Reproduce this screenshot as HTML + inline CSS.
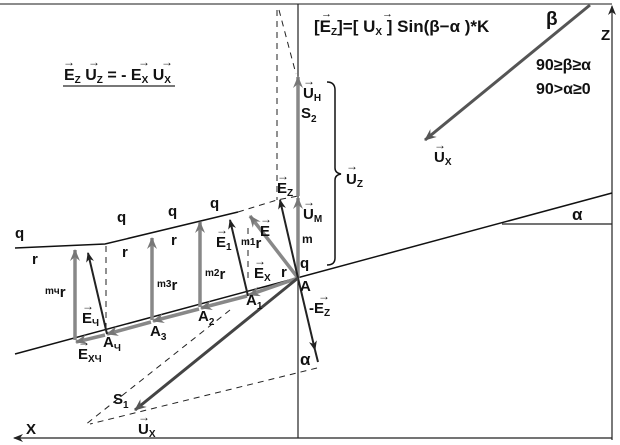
<!DOCTYPE html>
<html><head><meta charset="utf-8"><style>
html,body{margin:0;padding:0;background:#fff;}
svg{display:block;font-family:"Liberation Sans",Arial,sans-serif;}
text{font-weight:bold;fill:#111;}
.sm{font-size:10px}
</style></head><body>
<svg width="620" height="445" viewBox="0 0 620 445" xmlns="http://www.w3.org/2000/svg">
<defs>
<marker id="ad" markerWidth="10" markerHeight="8" refX="9" refY="4" orient="auto" markerUnits="userSpaceOnUse"><path d="M0,0 L10,4 L0,8 L3,4 Z" fill="#222"/></marker>
<marker id="ag" markerWidth="12" markerHeight="10" refX="11" refY="5" orient="auto" markerUnits="userSpaceOnUse"><path d="M0,0 L12,5 L0,10 L4,5 Z" fill="#777"/></marker>
<marker id="ak" markerWidth="12" markerHeight="10" refX="11" refY="5" orient="auto" markerUnits="userSpaceOnUse"><path d="M0,0 L12,5 L0,10 L4,5 Z" fill="#555"/></marker>
</defs>
<line x1="0" y1="4" x2="612" y2="4" stroke="#666" stroke-width="1.5"/>
<line x1="612" y1="440" x2="612" y2="6" stroke="#222" stroke-width="1.2" marker-end="url(#ad)"/>
<line x1="612" y1="438" x2="14" y2="438" stroke="#222" stroke-width="1.2" marker-end="url(#ad)"/>
<line x1="298" y1="4" x2="298" y2="438" stroke="#222" stroke-width="1.2"/>
<text x="601" y="40" font-size="15" font-weight="normal">Z</text>
<text x="26" y="434" font-size="15" font-weight="normal">X</text>
<line x1="612" y1="193" x2="15" y2="354" stroke="#111" stroke-width="1.5"/>
<line x1="502" y1="224" x2="612" y2="224" stroke="#222" stroke-width="1.2"/>
<text x="572" y="220" font-size="17" font-weight="normal">α</text>
<line x1="590" y1="5" x2="425" y2="140" stroke="#555" stroke-width="3" marker-end="url(#ak)"/>
<text x="546" y="25" font-size="19" font-weight="normal">β</text>
<text x="434" y="162" font-size="15">U<tspan class="sm" dy="3">X</tspan></text>
<text x="434" y="149" font-size="12">→</text>
<text x="314" y="32" font-size="17" font-weight="normal">[<tspan font-weight="bold">E<tspan font-size="10" dy="3">Z</tspan></tspan><tspan dy="-3">]=[</tspan><tspan font-weight="bold"> U<tspan font-size="10" dy="3">X</tspan></tspan><tspan dy="-3"> ]</tspan> Sin(β−α )*K</text>
<text x="321" y="17" font-size="11">→</text><text x="382" y="17" font-size="11">→</text>
<text x="536" y="70" font-size="16" font-weight="normal">90≥β≥α</text>
<text x="536" y="94" font-size="16" font-weight="normal">90&gt;α≥0</text>
<text x="64" y="80" font-size="16">E<tspan class="sm" dy="3">Z</tspan><tspan dy="-3"> U</tspan><tspan class="sm" dy="3">Z</tspan><tspan dy="-3"> = - E</tspan><tspan class="sm" dy="3">X</tspan><tspan dy="-3"> U</tspan><tspan class="sm" dy="3">X</tspan></text>
<text x="63" y="66" font-size="12">→</text><text x="88" y="66" font-size="12">→</text><text x="138" y="66" font-size="12">→</text><text x="161" y="66" font-size="12">→</text>
<line x1="63" y1="86" x2="175" y2="86" stroke="#777" stroke-width="2"/>
<g stroke="#222" stroke-width="1" stroke-dasharray="6,5" fill="none">
<line x1="277" y1="10" x2="277" y2="200"/>
<line x1="279" y1="10" x2="296" y2="74"/>
<polyline points="238,212 277,200 298,196"/>
<line x1="106" y1="246" x2="106" y2="330"/>
<line x1="248" y1="228" x2="248" y2="278"/>
<line x1="317" y1="368" x2="90" y2="424"/>
<line x1="230" y1="310" x2="85" y2="425"/>
</g>
<polyline points="15,248 105,244 238,212" fill="none" stroke="#111" stroke-width="1.5"/>
<path d="M327,82 Q335,82 335,90 L335,168 Q335,173 341,174 Q335,175 335,180 L335,258 Q335,265 327,265" fill="none" stroke="#111" stroke-width="1.5"/>
<g stroke="#888" stroke-width="3.5">
<line x1="298" y1="278" x2="298" y2="198" marker-end="url(#ag)"/>
<line x1="298" y1="196" x2="298" y2="77" marker-end="url(#ag)"/>
<line x1="75" y1="340" x2="75" y2="250" marker-end="url(#ag)"/>
<line x1="152" y1="320" x2="152" y2="238" marker-end="url(#ag)"/>
<line x1="200" y1="307" x2="200" y2="222" marker-end="url(#ag)"/>
<line x1="298" y1="278" x2="250" y2="216" marker-end="url(#ag)"/>
<line x1="298" y1="278" x2="249" y2="295" marker-end="url(#ag)"/>
<line x1="247" y1="296" x2="201" y2="308" marker-end="url(#ag)"/>
<line x1="199" y1="309" x2="153" y2="321" marker-end="url(#ag)"/>
<line x1="151" y1="322" x2="107" y2="334" marker-end="url(#ag)"/>
<line x1="105" y1="335" x2="76" y2="342" marker-end="url(#ag)"/>
</g>
<g stroke="#222" stroke-width="2">
<line x1="298" y1="278" x2="280" y2="200" marker-end="url(#ad)"/>
<line x1="248" y1="296" x2="230" y2="220" marker-end="url(#ad)"/>
<line x1="107" y1="334" x2="88" y2="253" marker-end="url(#ad)"/>
<line x1="298" y1="278" x2="315" y2="350" marker-end="url(#ad)"/>
<line x1="315" y1="350" x2="318" y2="362"/>
</g>
<line x1="298" y1="278" x2="135" y2="410" stroke="#444" stroke-width="3" marker-end="url(#ak)"/>
<g font-size="15">
<text x="15" y="238">q</text><text x="32" y="264">r</text>
<text x="117" y="222">q</text><text x="122" y="257">r</text>
<text x="168" y="216">q</text><text x="171" y="245">r</text>
<text x="210" y="208">q</text>
<text x="300" y="268">q</text><text x="281" y="277">r</text>
<text x="300" y="291">A</text>
<text x="302" y="243" font-size="12">m</text>
<text x="301" y="118">S<tspan class="sm" dy="4">2</tspan></text>
<text x="113" y="404">S<tspan class="sm" dy="4">1</tspan></text>
<text x="303" y="98">U<tspan class="sm" dy="3">H</tspan></text><text x="303" y="85" font-size="12">→</text>
<text x="303" y="219">U<tspan class="sm" dy="3">M</tspan></text><text x="303" y="206" font-size="12">→</text>
<text x="277" y="193">E<tspan class="sm" dy="3">Z</tspan></text><text x="277" y="180" font-size="12">→</text>
<text x="346" y="184">U<tspan class="sm" dy="3">Z</tspan></text><text x="346" y="170" font-size="12">→</text>
<text x="260" y="236">E</text><text x="260" y="223" font-size="12">→</text>
<text x="216" y="247">E<tspan class="sm" dy="3">1</tspan></text><text x="216" y="234" font-size="12">→</text>
<text x="254" y="278">E<tspan class="sm" dy="3">X</tspan></text><text x="254" y="265" font-size="12">→</text>
<text x="82" y="323">E<tspan class="sm" dy="3">Ч</tspan></text><text x="82" y="310" font-size="12">→</text>
<text x="78" y="359">E<tspan class="sm" dy="3">XЧ</tspan></text><text x="78" y="346" font-size="12">→</text>
<text x="309" y="313">-E<tspan class="sm" dy="3">Z</tspan></text><text x="318" y="300" font-size="12">→</text>
<text x="138" y="434">U<tspan class="sm" dy="3">X</tspan></text><text x="138" y="421" font-size="12">→</text>
<text x="246" y="305">A<tspan class="sm" dy="4">1</tspan></text>
<text x="198" y="321">A<tspan class="sm" dy="4">2</tspan></text>
<text x="150" y="336">A<tspan class="sm" dy="4">3</tspan></text>
<text x="103" y="347">A<tspan class="sm" dy="4">Ч</tspan></text>
<text x="45" y="297"><tspan font-size="10" dy="-3">mч</tspan><tspan dy="3">r</tspan></text>
<text x="157" y="290"><tspan font-size="10" dy="-3">m3</tspan><tspan dy="3">r</tspan></text>
<text x="205" y="279"><tspan font-size="10" dy="-3">m2</tspan><tspan dy="3">r</tspan></text>
<text x="241" y="248"><tspan font-size="10" dy="-3">m1</tspan><tspan dy="3">r</tspan></text>
<text x="300" y="365" font-size="17" font-weight="normal">α</text>
</g>
</svg>
</body></html>
